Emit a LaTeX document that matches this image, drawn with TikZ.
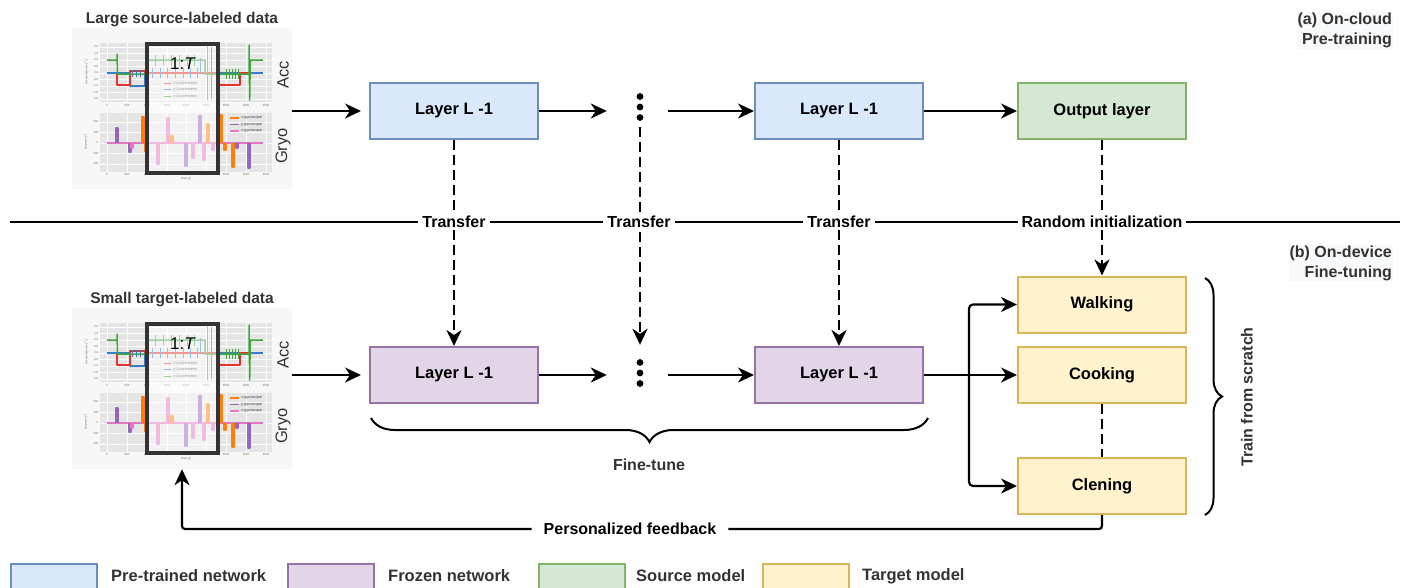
\documentclass[tikz,border=0pt]{standalone}
\usepackage{fontspec}
\setmainfont{Liberation Sans}
\usetikzlibrary{arrows.meta,calc,decorations.pathreplacing}

\definecolor{pblue}{HTML}{DAE8FC}
\definecolor{pblueD}{HTML}{6C8EBF}
\definecolor{ppurp}{HTML}{E1D5E7}
\definecolor{ppurpD}{HTML}{9673A6}
\definecolor{pgreen}{HTML}{D5E8D4}
\definecolor{pgreenD}{HTML}{82B366}
\definecolor{pyel}{HTML}{FFF2CC}
\definecolor{pyelD}{HTML}{D6B656}
\definecolor{txtgray}{HTML}{333333}
\definecolor{capbg}{HTML}{F8F9FA}
\definecolor{panelgray}{HTML}{E5E5E5}
\definecolor{framegray}{HTML}{333333}
\definecolor{accR}{HTML}{E4312F}
\definecolor{accB}{HTML}{3B7CC4}
\definecolor{accG}{HTML}{3DA73D}
\definecolor{gyO}{HTML}{FF7F0E}
\definecolor{gyP}{HTML}{9467BD}
\definecolor{gyK}{HTML}{E377C2}

\newcommand\gpulse[3]{\draw[#3, line width=1.3pt, line join=round] (#1,143) -- (#1,#2) -- (#1+2,#2) -- (#1+2,143);}
\newcommand\gtick[4]{\draw[#4, line width=0.9pt] (#1,#2) -- (#1,#3);}

\tikzset{
  layerbox/.style={draw, line width=2pt, minimum width=168pt, minimum height=56pt,
    inner sep=0pt, font=\fontsize{16.5}{19}\selectfont\bfseries},
  pre/.style={layerbox, fill=pblue, draw=pblueD},
  frozen/.style={layerbox, fill=ppurp, draw=ppurpD},
  source/.style={layerbox, fill=pgreen, draw=pgreenD},
  target/.style={layerbox, fill=pyel, draw=pyelD},
  tipa/.style={-{Stealth[length=16pt,width=15pt,inset=5pt]}},
  flow/.style={line width=2.2pt, tipa},
  xfer/.style={line width=2.5pt, dash pattern=on 10pt off 5pt, tipa},
  plainxfer/.style={line width=2.5pt, dash pattern=on 10pt off 5pt},
  onsep/.style={fill=white, inner xsep=4pt, inner ysep=2pt, font=\fontsize{16}{19}\selectfont\bfseries},
  caption/.style={font=\fontsize{16}{20}\selectfont\bfseries, text=txtgray, align=right,
    fill=capbg, inner sep=1pt, anchor=north east},
  sidetext/.style={font=\fontsize{16}{19}\selectfont\bfseries, text=txtgray, inner sep=0pt},
  header/.style={font=\fontsize{15.5}{19}\selectfont\bfseries, text=txtgray, inner sep=1pt},
  legbox/.style={draw, line width=2pt, minimum width=86pt, minimum height=30pt, anchor=north west},
  legtext/.style={anchor=west, font=\fontsize{16.5}{19}\selectfont\bfseries, text=txtgray, inner sep=0pt},
  dotstack/.style={minimum width=50pt, minimum height=40pt, inner sep=0pt,
    path picture={\fill (path picture bounding box.center) circle (3.4pt)
      ++(0,10.5pt) circle (3.4pt) ++(0,-21pt) circle (3.4pt);}},
  plotbg/.style={fill=black!3, minimum width=220pt, minimum height=161pt, inner sep=0pt},
  tinytxt/.style={font=\fontsize{2.8}{3}\selectfont, text=black!60, inner sep=0pt},
  smalltxt/.style={font=\fontsize{3.8}{4}\selectfont, text=black!75, inner sep=0pt, anchor=west},
  sensorplot/.pic={
    % panels and grid
    \fill[panelgray] (100,43) rectangle (272,102);
    \fill[panelgray] (100,113) rectangle (272,172);
    \foreach \gx in {107,127,147,167,186,206,226,246,266}
      \draw[white, line width=0.5pt] (\gx,43) -- (\gx,102) (\gx,113) -- (\gx,172);
    \foreach \gy in {47,53.5,60,66.5,73,79.5,86,92.5,99,122,132.5,143,153.5,164}
      \draw[white, line width=0.5pt] (100,\gy) -- (272,\gy);
    \foreach \gx/\lab in {107/0,127/500,147/1000,167/1500,186/2000,206/2500,226/3000,246/3500,266/4000}{
      \node[tinytxt] at (\gx,105.5) {\lab};
      \node[tinytxt] at (\gx,175) {\lab};}
    \foreach \gy/\lab in {47/2.0,53.5/1.5,60/1.0,66.5/0.5,73/0.0,79.5/-0.5,86/-1.0,92.5/-1.5,99/-2.0,
                          122/200,132.5/100,143/0,153.5/-100,164/-200}
      \node[tinytxt, anchor=east] at (98.5,\gy) {\lab};
    \node[tinytxt, rotate=90] at (86,72) {Acceleration [m·s\textsuperscript{-2}]};
    \node[tinytxt, rotate=90] at (86,142) {Degrees [°]};
    \node[tinytxt] at (186,178.5) {Time [s]};
    % acceleration traces
    \draw[accB, line width=1.5pt, line join=round] (107,73) -- (130,73) -- (130,86) -- (145,86) -- (145,73) -- (263,73);
    \draw[accR, line width=1.5pt, line join=round] (117,74) -- (117,85) -- (130,85) -- (130,71) -- (145,71)
      -- (145,73) -- (218,73) -- (218,85) -- (240,85) -- (240,73) -- (250,73);
    \draw[accG, line width=1.5pt, line join=round] (107,60) -- (117,60) -- (117,54) -- (117.5,74) -- (147,74)
      -- (147,60) -- (205,60) -- (205,74) -- (249,74) -- (249,45) -- (249.7,100) -- (250.3,60) -- (263,60);
    \foreach \gx in {152,160,167,175,183,190,197} \gtick{\gx}{68}{78}{accB};
    \foreach \gx in {155,163,171,179,187,194} \gtick{\gx}{55}{66}{accG};
    \foreach \gx in {226,229,232,235,238} \gtick{\gx}{69}{79}{accG};
    \foreach \gx in {132,136,140} \gtick{\gx}{70}{77}{accB};
    \gtick{200}{58}{73}{accB}
    \gtick{207}{45}{100}{accG}
    \gtick{211}{47}{99}{accR}
    \foreach \yy/\cc/\lab in {83/accR/x,89.5/accB/y,96/accG/z}{
      \draw[\cc, line width=1pt] (164,\yy) -- (171,\yy);
      \node[smalltxt] at (173,\yy) {\lab-Acceleration};}
    % gyroscope traces
    \draw[gyK, line width=1.4pt] (107,143) -- (263,143);
    \gpulse{116}{128}{gyP}
    \gpulse{129}{152}{gyP}
    \gpulse{131}{148}{gyK}
    \gpulse{142}{117}{gyO}
    \gpulse{144.5}{151}{gyO}
    \gpulse{157}{164}{gyK}
    \gpulse{167}{118}{gyK}
    \gpulse{171}{136}{gyO}
    \gpulse{185}{166}{gyP}
    \gpulse{192}{158}{gyK}
    \gpulse{199}{116}{gyP}
    \gpulse{203}{160}{gyK}
    \gpulse{207}{124}{gyO}
    \gpulse{212}{150}{gyK}
    \gpulse{220}{115}{gyO}
    \gpulse{224}{150}{gyO}
    \gpulse{232}{167}{gyO}
    \gpulse{236}{148}{gyP}
    \gpulse{248}{168}{gyP}
    \foreach \yy/\cc/\lab in {118/gyO/x,124.5/gyP/y,131/gyK/z}{
      \draw[\cc, line width=1.4pt] (230,\yy) -- (239,\yy);
      \node[smalltxt] at (241,\yy) {\lab-gyroscope};}
    % sliding window
    \fill[white, opacity=0.5] (147,44) rectangle (218,173);
    \draw[framegray, line width=3.5pt] (147,44) rectangle (218,173);
    \node[font=\fontsize{17}{20}\selectfont, inner sep=0pt] (-win) at (183,64) {1:\textit{T}};
    \node[rotate=90, font=\fontsize{16.5}{20}\selectfont, text=txtgray, inner sep=0pt] (-acc) at (283,75) {Acc};
    \node[rotate=90, font=\fontsize{16.5}{20}\selectfont, text=txtgray, inner sep=0pt] (-gyr) at (283,146) {Gryo};
  }
}

\begin{document}
\begin{tikzpicture}[x=1pt, y=-1pt]
\useasboundingbox (0,0) rectangle (1408,587);

% data panels
\node[plotbg] (imgA) at (182,108.5) {};
\pic (plA) at (0,0) {sensorplot};
\node[header] (hdA) at (182,20) {Large source-labeled data};
\node[plotbg] (imgB) at (182,388.5) {};
\pic (plB) at (0,280) {sensorplot};
\node[header] (hdB) at (182,300) {Small target-labeled data};

% stage captions
\node[caption] (capA) at (1393,12) {(a) On-cloud\\Pre-training};
\node[caption] (capB) at (1393,245) {(b) On-device\\Fine-tuning};

% separator between the stages
\draw[line width=2pt] (10,222) -- (1400,222);

% pre-training network
\node[pre] (layA) at (454,111) {Layer L -1};
\node[dotstack] (dotsA) at (640,107) {};
\node[pre] (layB) at (839,111) {Layer L -1};
\node[source] (outL) at (1102,111) {Output layer};

% fine-tuning network
\node[frozen] (layC) at (454,375) {Layer L -1};
\node[dotstack] (dotsB) at (640,373) {};
\node[frozen] (layD) at (839,375) {Layer L -1};
\node[target] (walk) at (1102,304.5) {Walking};
\node[target] (cook) at (1102,375) {Cooking};
\node[target] (clean) at (1102,486) {Clening};

% forward connections
\draw[flow, shorten >=8pt] (imgA.east |- layA.west) -- (layA.west);
\draw[flow, shorten >=8pt] (layA.east) -- (layA.east -| dotsA.west);
\draw[flow, shorten <=3pt] (dotsA.east |- layB.west) -- (layB.west);
\draw[flow] (layB.east) -- (outL.west);

\draw[flow, shorten >=8pt] (imgB.east |- layC.west) -- (layC.west);
\draw[flow, shorten >=8pt] (layC.east) -- (layC.east -| dotsB.west);
\draw[flow, shorten <=3pt] (dotsB.east |- layD.west) -- (layD.west);
\draw[flow] (layD.east) -- (cook.west);
\coordinate (br) at (969,375);
\draw[flow, rounded corners=4pt] (br) |- (walk.west);
\draw[flow, rounded corners=4pt] (br) |- (clean.west);
\draw[plainxfer] (cook.south) -- (clean.north);

% weight transfer
\draw[xfer] (layA.south) -- (layC.north);
\draw[xfer, shorten >=8pt] (dotsA.south) -- (dotsB.north);
\draw[xfer] (layB.south) -- (layD.north);
\draw[xfer] (outL.south) -- (walk.north);

\node[onsep] (trA) at (454,222) {Transfer};
\node[onsep] (trB) at (639,222) {Transfer};
\node[onsep] (trC) at (839,222) {Transfer};
\node[onsep] (rnd) at (1102,222) {Random initialization};

% braces
\draw[line width=2pt, decorate, decoration={brace, mirror, amplitude=24pt}] (371,418) -- (928,418);
\node[sidetext] (ft) at (649,465) {Fine-tune};
\draw[line width=2pt, decorate, decoration={brace, amplitude=17pt}] (1205,278) -- (1205,515);
\node[sidetext, rotate=90] (tfs) at (1247,397) {Train from scratch};

% feedback loop
\node[onsep, inner xsep=12pt] (fb) at (630,529) {Personalized feedback};
\draw[line width=2.2pt, rounded corners=3pt] (clean.south) |- (fb.east);
\draw[flow, rounded corners=3pt] (fb.west) -| (imgB.south);

% legend
\node[legbox, fill=pblue, draw=pblueD] (lgA) at (10,563) {};
\node[legtext] (ltA) at (111,576) {Pre-trained network};
\node[legbox, fill=ppurp, draw=ppurpD] (lgB) at (287,563) {};
\node[legtext] (ltB) at (388,576) {Frozen network};
\node[legbox, fill=pgreen, draw=pgreenD] (lgC) at (538,563) {};
\node[legtext] (ltC) at (636,576) {Source model};
\node[legbox, fill=pyel, draw=pyelD] (lgD) at (762,563) {};
\node[legtext] (ltD) at (862,576) {Target model};
\end{tikzpicture}
\end{document}
